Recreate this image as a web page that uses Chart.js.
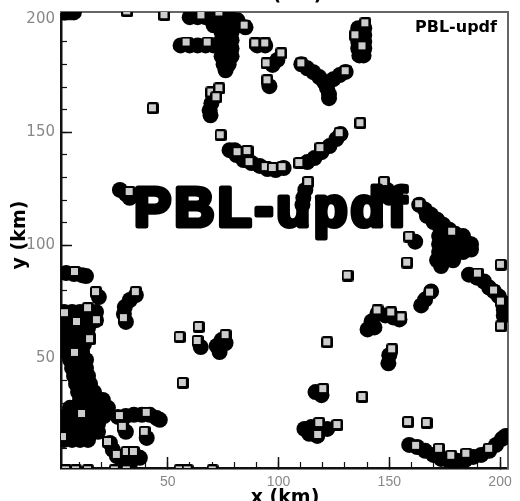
<!DOCTYPE html>
<html>
<head>
<meta charset="utf-8">
<script src="https://cdn.jsdelivr.net/npm/chart.js@4.4.1/dist/chart.umd.min.js"></script>
<style>
  html, body { margin: 0; padding: 0; background: #fff; }
  #plot { display: block; }
</style>
</head>
<body>
<canvas id="plot" width="520" height="501"></canvas>
<script>
// Axis ranges (km) and tick values
const X_MIN = 1.8, X_MAX = 203.6;
const Y_MIN = 1.5, Y_MAX = 203.2;
const majorTicks = [50, 100, 150, 200];
const minorTicks = [10, 20, 30, 40, 50, 60, 70, 80, 90, 100, 110, 120, 130, 140, 150, 160, 170, 180, 190, 200];

// Dense updraft cores (solid black), [x km, y km]
const blobsNorth = [
    [3.6, 203], [7.6, 203],
    [59.9, 200.9], [63.5, 200.9], [67.1, 200.9], [70.7, 200.9], [74.3, 200.9], [77.9, 200.9],
    [70.7, 197.3], [74.3, 197.3], [77.9, 197.3], [81.5, 197.3], [85.1, 196.4], [81.5, 199.5],
    [74.3, 194.2], [78.8, 194.2], [74.3, 190.7], [78.8, 190.7], [74.3, 187.1], [78.8, 187.1],
    [74.3, 183.6], [78.8, 183.6], [75.2, 180.1], [77.5, 180.1], [76.1, 177.4],
    [55.8, 188.4], [59.9, 188.4], [63.5, 188.4], [67.1, 188.4], [70.7, 188.4],
    [90.4, 188.4], [94, 188.4],
    [99.5, 182], [97.3, 179.8], [95.9, 170.4],
    [110.3, 180.1], [113, 178.3], [115.7, 176.6], [118.4, 174.4], [120.6, 172.2], [121.9, 169.5], [122.8, 166.9],
    [122.8, 165.1], [124.8, 173.5], [127.6, 175.3], [130.3, 176.7],
    [136, 196], [138.7, 196], [136, 193], [138.7, 193], [136, 190], [138.7, 190],
    [136, 187], [138.7, 187], [136.5, 184], [138.4, 184],
    [70.6, 166.3], [69.7, 162.8], [68.9, 159.7], [69.3, 157.5]
];
const blobsMiddle = [
    [77.9, 142.1], [81, 139.9], [84.2, 137.7], [87.8, 136.4], [91.5, 135.1], [95, 133.7], [98.7, 133.3], [102.3, 134.2],
    [80.2, 142.1], [84.2, 140.6],
    [113, 136.8], [116.2, 138.6], [119.4, 141.2], [123, 143.9], [126.1, 147], [128, 149.2],
    [112.1, 124.5], [111.2, 121], [110.8, 117.9],
    [149, 124.5], [149.9, 121],
    [28.4, 124.5], [31.1, 122.7], [32.8, 121]
];
const blobsEast = [
    [163.5, 117.9], [166.2, 115.7], [168.9, 113.5], [171.6, 111.3], [174.3, 109.1], [177.1, 106.9], [179.8, 105.1],
    [182.5, 103.3], [185.1, 101.1], [167, 113], [170, 110.3], [173, 107.8],
    [172.5, 104.1], [176.1, 104.1], [179.7, 104.1], [183.3, 104.1],
    [172.5, 100.5], [176.1, 100.5], [179.7, 100.5], [183.3, 100.5], [186.9, 100.5],
    [172.5, 97], [176.1, 97], [179.7, 97], [183.3, 97], [186.9, 98.1],
    [171.6, 93.4], [175.2, 93.4], [178.8, 93.4], [173.4, 90.8],
    [161.7, 101.6],
    [186, 87], [189.6, 85.7], [192.8, 84], [195.1, 81.3], [197.3, 79.6], [199.5, 77.4], [201.3, 74.7], [201.7, 71.6], [201.7, 69],
    [168.9, 79.6], [166.2, 76], [164.4, 73.4],
    [159, 11.7], [162.6, 10.8], [166.2, 9.1], [169.9, 7.3], [173.4, 5.5], [177.1, 4.7], [180.7, 4.7], [184.3, 5.1],
    [187.9, 6.4], [191.5, 7.3], [195.1, 9.1], [198.2, 11.7], [200.9, 14.4], [202.6, 15.7]
];
const blobsSouth = [
    [144.7, 69.9], [148.2, 69], [151.8, 68.1], [154.6, 67.2], [142, 66.3], [140.2, 62.8], [143.3, 63.7],
    [150, 51.4], [149.6, 47.8],
    [116.7, 35.1], [119.4, 33.7],
    [111.7, 18.8], [114.8, 19.6], [118.4, 18.8], [122, 18.8], [117.5, 15.7], [113.9, 16.6]
];
const blobsWest = [
    [4.1, 87.7], [7.7, 87.3], [11.3, 86.8], [13.1, 86.4],
    [18.9, 77.1],
    [35.6, 78], [32.9, 75.8], [30.6, 72.7], [30.2, 69.6], [31.1, 66.1],
    [3.2, 70.5], [6.8, 70.5], [10.4, 70.5], [14, 70.5], [17.6, 70.5],
    [3.2, 66.9], [6.8, 66.9], [10.4, 66.9], [14, 66.9], [17.6, 66.9],
    [3.2, 63.4], [6.8, 63.4], [10.4, 63.4], [14, 63.4],
    [3.2, 59.9], [6.8, 59.9], [10.4, 59.9], [14, 59.9],
    [5, 56.3], [8.6, 56.3], [12.2, 56.3],
    [4.1, 52.8], [7.7, 52.8], [11.3, 52.8],
    [5.9, 49.3], [9.5, 49.3], [13.1, 49.3],
    [6.8, 45.7], [10.4, 45.7], [13.1, 45.7],
    [7.7, 42.2], [11.3, 42.2], [14, 42.2],
    [8.6, 38.7], [12.2, 38.7], [14.9, 38.7],
    [9.5, 35.1], [13.1, 35.1], [16.7, 35.1],
    [10.4, 31.6], [14, 31.6], [17.6, 31.6], [20.7, 31.6],
    [5.9, 28.1], [9.5, 28.1], [13.1, 28.1], [16.7, 28.1], [20.3, 28.1], [23, 28.1],
    [4.1, 24.5], [7.7, 24.5], [11.3, 24.5], [14.9, 24.5], [18.5, 24.5], [21.2, 24.5],
    [4.1, 21], [7.7, 21], [11.3, 21], [14.9, 21], [18.5, 21],
    [4.1, 17.5], [7.7, 17.5], [11.3, 17.5], [14.9, 17.5], [18.5, 17.5],
    [3.2, 13.9], [6.8, 13.9], [10.4, 13.9], [14, 13.9],
    [23.9, 12.6], [25.2, 9.5], [27, 6.8], [29.3, 5.1], [32, 6.4], [35.6, 6.8], [37.4, 6], [32.9, 3.3],
    [27.5, 24.1], [31.1, 24.5], [34.7, 25], [38.3, 25], [41.9, 25], [45, 23.6], [46.4, 22.8],
    [31.1, 17.5], [40.5, 14.8],
    [64.9, 55], [74.3, 58.1], [72.1, 55.5], [73.4, 52.8], [76.1, 56.8]
];

// Individual grid cells flagged by the PBL updraft pdf, [x km, y km]
const cellsNorth = [
    [31.7, 203.5], [48.5, 201.8],
    [65.2, 201.7], [73.3, 203], [84.7, 197.2], [58.5, 189.7], [68, 189.7],
    [89.5, 189.3], [94, 189.3],
    [101.3, 184.9], [94.6, 180.5], [95, 173],
    [110.3, 180.5], [130.3, 177],
    [139.2, 198.2], [137.9, 188], [134.7, 192.9],
    [43.3, 160.6],
    [69.7, 167.6], [73.3, 169.4], [72, 165.5]
];
const cellsMiddle = [
    [73.9, 148.7], [137, 154],
    [81.5, 141.2], [86, 141.7], [86.9, 136.8], [94.2, 134.6], [97.4, 134.2], [101.8, 134.6], [109.4, 136.4],
    [118.9, 143], [127.6, 149.6],
    [113.4, 128], [147.7, 128], [32.8, 123.6]
];
const cellsEast = [
    [163.5, 118.2], [178.4, 106], [159, 103.8], [158.1, 92.3], [200.4, 91.4],
    [190, 87.5], [197.3, 80], [200.4, 75.1], [200.4, 64.1], [168.4, 79.1],
    [158.5, 21.8], [166.9, 21.4], [162.1, 11.3], [172.5, 10], [178, 6.9], [184.8, 7.8], [195.1, 10]
];
const cellsSouth = [
    [131.2, 86.6], [144.7, 71.2], [150.9, 70.3], [155.5, 68.1], [122, 57.1], [151.3, 54],
    [120.2, 36.4], [137.9, 32.9], [118.4, 21.4], [126.6, 20.5], [117.9, 16.1]
];
const cellsWest = [
    [8.1, 88.2], [17.6, 79.3], [35.6, 79.3], [30.2, 67.8],
    [3.6, 70], [14, 72.2], [18, 66.9], [9, 66.1], [14.9, 58.5], [8.1, 52.4], [11.3, 25.4], [2.7, 15.2],
    [23, 13], [27, 7.3], [31.5, 8.6], [34.7, 8.6],
    [28.4, 24.5], [40.5, 25.9], [29.7, 19.7], [39.6, 17.5],
    [55.4, 59.4], [64, 63.9], [63.5, 57.7], [76.1, 60.3], [56.8, 39.1],
    [4.1, 0.5], [8.6, 0.5], [14, 0.5], [26.1, 0.5], [31.5, 0.5], [55.4, 0.5], [59, 0.5], [70.3, 0.5]
];

const toPoints = list => list.map(([x, y]) => ({ x, y }));
const allBlobs = [...blobsNorth, ...blobsMiddle, ...blobsEast, ...blobsSouth, ...blobsWest];
const allCells = [...cellsNorth, ...cellsMiddle, ...cellsEast, ...cellsSouth, ...cellsWest];

// Cell symbol: grey square on a black shadow
function makeCellSymbol() {
    const c = document.createElement("canvas");
    c.width = 12;
    c.height = 12;
    const g = c.getContext("2d");
    g.fillStyle = "#000";
    g.beginPath();
    g.roundRect(0, 0, 12, 12, 2.5);
    g.fill();
    g.fillStyle = "#cdcdcd";
    g.fillRect(2, 2, 7, 7);
    return c;
}

// Fix axis box sizes so the plot frame sits where we want it
function fixBox(width, height) {
    return scale => {
        if (width !== null) scale.width = width;
        if (height !== null) scale.height = height;
        scale.paddingTop = scale.paddingBottom = scale.paddingLeft = scale.paddingRight = 0;
    };
}
const setTicks = values => scale => { scale.ticks = values.map(v => ({ value: v })); };

const frameColor = "#111";
const labelColor = "#888";

// Titles and the panel tag
const textLayer = {
    id: "textLayer",
    afterDraw(chart) {
        const ctx = chart.ctx;
        ctx.save();
        ctx.fillStyle = "#000";
        ctx.strokeStyle = "#000";
        ctx.textBaseline = "alphabetic";

        ctx.font = 'bold 19px "DejaVu Sans"';
        ctx.textAlign = "center";
        ctx.fillText("x (km)", 285, 503);
        ctx.fillText("x (km)", 288, 0);
        ctx.save();
        ctx.translate(25, 235);
        ctx.rotate(-Math.PI / 2);
        ctx.fillText("y (km)", 0, 0);
        ctx.restore();

        ctx.font = 'bold 16px "DejaVu Sans"';
        ctx.textAlign = "right";
        ctx.fillText("PBL-updf", 497, 32);

        ctx.font = 'bold 55px "Liberation Sans"';
        ctx.textAlign = "center";
        ctx.letterSpacing = "3.5px";
        ctx.lineWidth = 5;
        ctx.lineJoin = "round";
        ctx.strokeText("PBL-updf", 272, 225.5);
        ctx.fillText("PBL-updf", 272, 225.5);
        ctx.restore();
    }
};

new Chart(document.getElementById("plot").getContext("2d"), {
    type: "scatter",
    data: {
        datasets: [
            {
                label: "cells",
                data: toPoints(allCells),
                pointStyle: makeCellSymbol(),
                pointRadius: 6,
                order: 0,
                clip: 0
            },
            {
                label: "cores",
                data: toPoints(allBlobs),
                pointStyle: "circle",
                pointRadius: 8,
                backgroundColor: "#000",
                borderWidth: 0,
                order: 1,
                clip: 0
            }
        ]
    },
    options: {
        responsive: false,
        animation: false,
        events: [],
        layout: { padding: { top: 12, right: 12, left: 0, bottom: 0 } },
        plugins: {
            legend: { display: false },
            tooltip: { enabled: false }
        },
        scales: {
            x: {
                type: "linear", position: "bottom", weight: 1,
                min: X_MIN, max: X_MAX, bounds: "data",
                afterBuildTicks: setTicks(majorTicks),
                afterFit: fixBox(null, 33),
                border: { color: frameColor, width: 2.5 },
                grid: { drawOnChartArea: false, tickLength: -11, tickWidth: 1.5, tickColor: frameColor },
                ticks: { autoSkip: false, maxRotation: 0, padding: 17, color: labelColor,
                         font: { family: "Liberation Sans", size: 14 } }
            },
            xMinor: {
                type: "linear", position: "bottom", weight: 0,
                min: X_MIN, max: X_MAX, bounds: "data",
                afterBuildTicks: setTicks(minorTicks),
                afterFit: fixBox(null, 0),
                border: { display: false },
                grid: { drawOnChartArea: false, tickLength: -6, tickWidth: 1.2, tickColor: frameColor },
                ticks: { display: false }
            },
            y: {
                type: "linear", position: "left", weight: 1,
                min: Y_MIN, max: Y_MAX, bounds: "data",
                afterBuildTicks: setTicks(majorTicks),
                afterFit: fixBox(61, null),
                border: { color: frameColor, width: 2.5 },
                grid: { drawOnChartArea: false, tickLength: -11, tickWidth: 1.5, tickColor: frameColor },
                ticks: { autoSkip: false, padding: 17, color: labelColor,
                         font: { family: "DejaVu Sans", size: 15 } }
            },
            yMinor: {
                type: "linear", position: "left", weight: 0,
                min: Y_MIN, max: Y_MAX, bounds: "data",
                afterBuildTicks: setTicks(minorTicks),
                afterFit: fixBox(0, null),
                border: { display: false },
                grid: { drawOnChartArea: false, tickLength: -6, tickWidth: 1.2, tickColor: frameColor },
                ticks: { display: false }
            },
            xTop: {
                type: "linear", position: "top",
                afterFit: fixBox(null, 0),
                border: { color: "#666", width: 2 },
                grid: { drawOnChartArea: false, drawTicks: false },
                ticks: { display: false }
            },
            yRight: {
                type: "linear", position: "right",
                afterFit: fixBox(0, null),
                border: { color: "#666", width: 2 },
                grid: { drawOnChartArea: false, drawTicks: false },
                ticks: { display: false }
            }
        }
    },
    plugins: [textLayer]
});
</script>
</body>
</html>
